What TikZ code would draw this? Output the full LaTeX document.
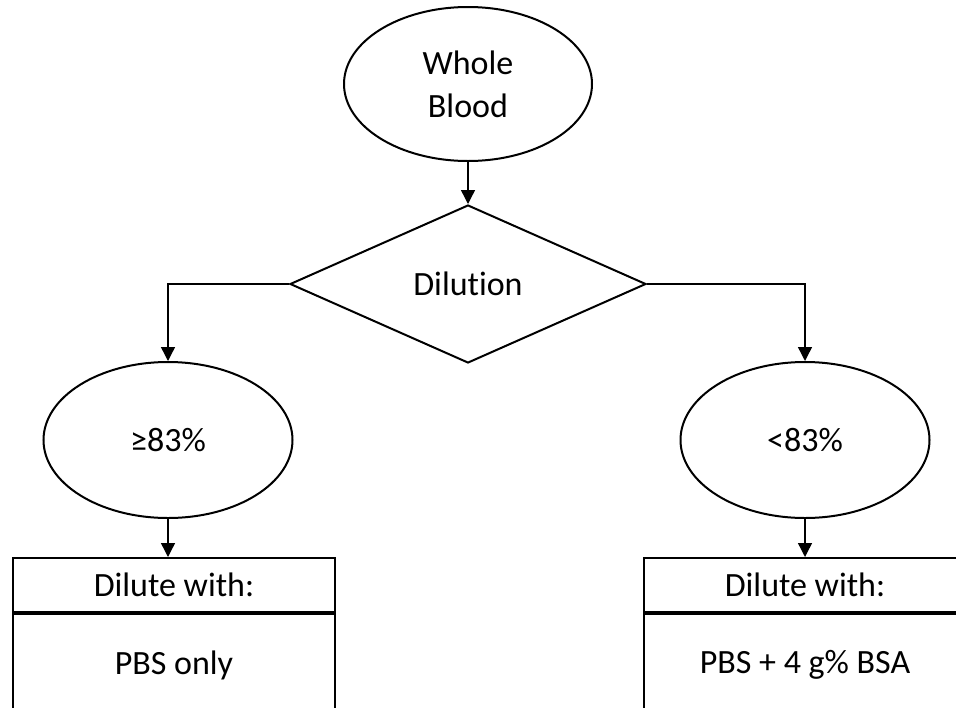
\documentclass[tikz,border=0pt]{standalone}
\usepackage{fontspec}
\setmainfont{Carlito}[Ligatures={NoCommon}]
\usetikzlibrary{shapes.geometric,arrows.meta}
\begin{document}
\begin{tikzpicture}[x=1pt,y=-1pt,
  every node/.style={font=\fontsize{34}{43}\selectfont, inner sep=0pt},
  oval/.style={draw, ellipse, line width=2pt, minimum width=248pt, minimum height=154pt, align=center},
  decide/.style={draw, diamond, line width=2pt, minimum width=356pt, minimum height=158pt},
  headbox/.style={draw, rectangle, line width=2pt, minimum width=322pt, minimum height=54pt},
  bodybox/.style={draw, rectangle, line width=2pt, minimum width=322pt, minimum height=102pt},
  arr/.style={line width=1.4pt, -{Triangle[length=14pt,width=14pt]}},
  ln/.style={line width=1.4pt}]
\useasboundingbox (0,0) rectangle (956,707);
\clip (0,0) rectangle (956,707);
\node[oval] (wb) at (468,84) {Whole\\Blood};
\node[decide] (dil) at (468,284) {Dilution};
\node[oval, minimum width=249pt, minimum height=156pt] (ge) at (168,440) {≥83\%};
\node[oval, minimum width=249pt, minimum height=156pt] (lt) at (805,440) {<83\%};
\node[headbox, anchor=north] (lh) at (174,557) {Dilute with:};
\node[bodybox, anchor=north] (lb) at (lh.south) {PBS only};
\node[headbox, anchor=north] (rh) at (805,557) {Dilute with:};
\node[bodybox, anchor=north] (rb) at (rh.south) {PBS + 4 g\% BSA};
\draw[arr] (wb.south) -- (dil.north);
\draw[arr] (dil.west) -| (ge.north);
\draw[arr] (dil.east) -| (lt.north);
\draw[arr] (ge.south) -- (ge.south |- lh.north);
\draw[arr] (lt.south) -- (lt.south |- rh.north);
\end{tikzpicture}
\end{document}
